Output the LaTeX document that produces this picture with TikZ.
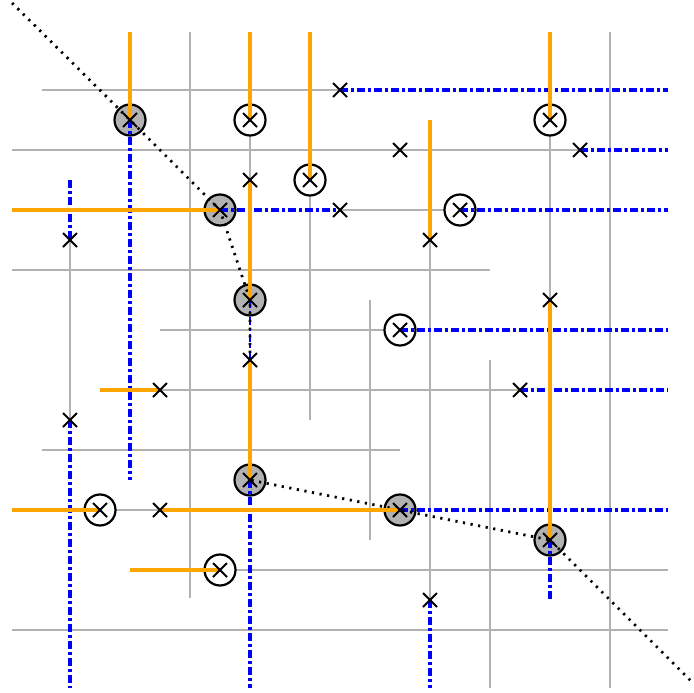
\documentclass[tikz,border=0pt]{standalone}
\usetikzlibrary{shapes.misc}
\definecolor{amber}{RGB}{255,165,0}

\begin{document}
\begin{tikzpicture}[x=30pt, y=-30pt,
	grd/.style={gray!60, line width=1.2pt},
	ora/.style={amber, line width=4pt},
	blu/.style={blue, line width=4pt, dash pattern=on 8pt off 3pt on 3pt off 3pt},
	front/.style={black, line width=2.8pt, dash pattern=on 2.2pt off 5.5pt},
	sky/.style={circle, draw, line width=2.2pt, fill=gray!60, minimum size=31pt, inner sep=0pt},
	ring/.style={sky, fill=white},
	cr/.style={cross out, draw, line width=2pt, minimum size=12pt, inner sep=0pt}]
	\useasboundingbox (-0.3333,0) rectangle (22.8,23.1);
	\coordinate (tl) at (0.07,1.07); \coordinate (br) at (21.93,22.93);
	% skyline points, other circled points, plain points
	\coordinate (S1) at (4,4); \coordinate (S2) at (7,7); \coordinate (S3) at (8,10);
	\coordinate (S4) at (8,16); \coordinate (S5) at (13,17); \coordinate (S6) at (18,18);
	\coordinate (W1) at (8,4); \coordinate (W2) at (10,6); \coordinate (W3) at (15,7); \coordinate (W4) at (18,4);
	\coordinate (W5) at (13,11); \coordinate (W6) at (3,17); \coordinate (W7) at (7,19);
	\coordinate (P1) at (11,3); \coordinate (P2) at (8,6); \coordinate (P3) at (13,5); \coordinate (P4) at (11,7);
	\coordinate (P5) at (19,5); \coordinate (P6) at (2,8); \coordinate (P7) at (14,8); \coordinate (P8) at (18,10);
	\coordinate (P9) at (8,12); \coordinate (P10) at (5,13); \coordinate (P11) at (17,13); \coordinate (P12) at (2,14);
	\coordinate (P13) at (5,17); \coordinate (P14) at (14,20);
	% grid
	\draw[grd] (1.07,3) -- (P1); \draw[grd] (P5 -| tl) -- (P5); \draw[grd] (P4) -- (W3);
	\draw[grd] (0.07,9) -- (16,9); \draw[grd] (P10 |- W5) -- (W5); \draw[grd] (P10) -- (P11);
	\draw[grd] (1.07,15) -- (13,15); \draw[grd] (W6) -- (P13); \draw[grd] (W7) -- (W7 -| br);
	\draw[grd] (0.07,21) -- (21.93,21);
	\draw[grd] (P6) -- (P12); \draw[grd] (6,1.07) -- (6,19.93); \draw[grd] (W1) -- (P2);
	\draw[grd] (W2) -- (W2 |- P12); \draw[grd] (12,10) -- (12,18); \draw[grd] (P7) -- (P14);
	\draw[grd] (16,12) -- (16,22.93); \draw[grd] (W4) -- (P8); \draw[grd] (20,1.07) -- (20,22.93);
	% circles
	\node[sky] (cS1) at (S1) {}; \node[sky] (cS2) at (S2) {}; \node[sky] (cS3) at (S3) {};
	\node[sky] (cS4) at (S4) {}; \node[sky] (cS5) at (S5) {}; \node[sky] (cS6) at (S6) {};
	\node[ring] (cW1) at (W1) {}; \node[ring] (cW2) at (W2) {}; \node[ring] (cW3) at (W3) {};
	\node[ring] (cW4) at (W4) {}; \node[ring] (cW5) at (W5) {}; \node[ring] (cW6) at (W6) {};
	\node[ring] (cW7) at (W7) {};
	% blue
	\draw[blu] (P1) -- (P1 -| br); \draw[blu] (P5) -- (P5 -| br); \draw[blu] (S2) -- (P4);
	\draw[blu] (W3) -- (W3 -| br); \draw[blu] (S1) -- (S1 |- S4); \draw[blu] (P6 |- P2) -- (P6);
	\draw[blu, line width=1.8pt] (S3) -- (P9); \draw[blu] (W5) -- (W5 -| br); \draw[blu] (P11) -- (P11 -| br);
	\draw[blu] (P12) -- (P12 |- br); \draw[blu] (S4) -- (S4 |- br); \draw[blu] (S5) -- (S5 -| br);
	\draw[blu] (S6) -- (S6 |- P14); \draw[blu] (P14) -- (P14 |- br);
	% front
	\coordinate (d0) at (0.07,0.1); \coordinate (d1) at (22.8,22.8);
	\draw[front] (d0) -- (S1) -- (S2) -- (S3) -- (S4) -- (S5) -- (S6) -- (d1);
	% orange
	\draw[ora] (S1 |- tl) -- (S1); \draw[ora] (W1 |- tl) -- (W1); \draw[ora] (W2 |- tl) -- (W2);
	\draw[ora] (W4 |- tl) -- (W4); \draw[ora] (S2 -| tl) -- (S2); \draw[ora] (P2) -- (S3);
	\draw[ora] (P7 |- S1) -- (P7); \draw[ora] (P8) -- (S6); \draw[ora] (W6 |- P10) -- (P10);
	\draw[ora] (P9) -- (S4); \draw[ora] (W6 -| tl) -- (W6); \draw[ora] (P13) -- (S5);
	\draw[ora] (S1 |- W7) -- (W7);
	% crosses
	\foreach \p in {S1,S2,S3,S4,S5,S6,W1,W2,W3,W4,W5,W6,W7,P1,P2,P3,P4,P5,P6,P7,P8,P9,P10,P11,P12,P13,P14}
		\node[cr] (x\p) at (\p) {};
\end{tikzpicture}
\end{document}
